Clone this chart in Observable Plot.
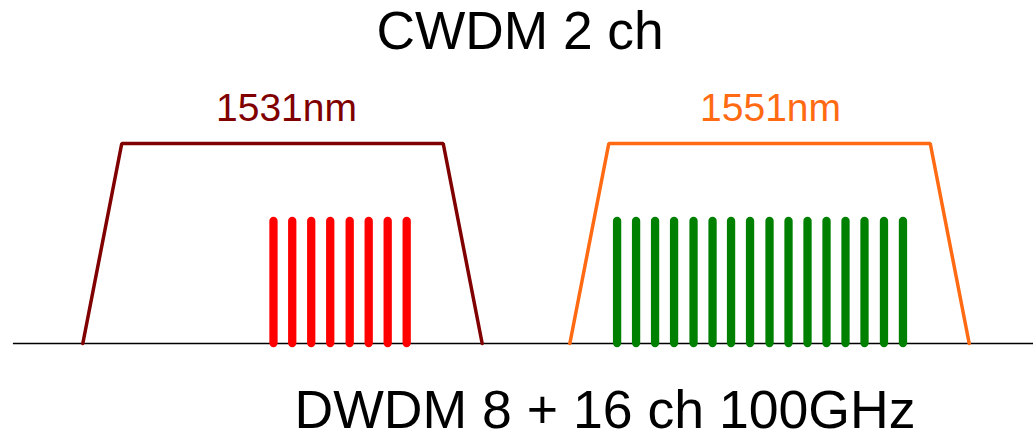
<!DOCTYPE html>
<html>
<head>
<meta charset="utf-8">
<script src="https://cdn.jsdelivr.net/npm/d3@7"></script>
<script src="https://cdn.jsdelivr.net/npm/@observablehq/plot@0.6"></script>
<style>
  html, body { margin: 0; padding: 0; background: #fff; }
  #chart svg { display: block; }
</style>
</head>
<body>
<div id="chart"></div>
<script>
// CWDM bands (centre wavelength, nm) and their filter passband shape
const cwdmCenters = [1531, 1551];
const cwdmLabels = ["1531nm", "1551nm"];
const cwdmColors = ["#800000", "#ff6a13"];
const passbandHalfBottom = 8.2;   // nm, half-width at base
const passbandHalfTop = 6.6;      // nm, half-width at top
const passbandLevel = 1;

// DWDM channels (nm) on 100 GHz grid
const dwdm8 = [1530.63, 1531.40, 1532.18, 1532.96, 1533.76, 1534.54, 1535.32, 1536.10];
const dwdm16 = [1544.74, 1545.52, 1546.30, 1547.08, 1547.88, 1548.66, 1549.42, 1550.20,
                1551.00, 1551.78, 1552.56, 1553.34, 1554.12, 1554.90, 1555.70, 1556.48];
const dwdmLevel = 0.61;
const dwdm8Color = "#ff0000";
const dwdm16Color = "#008000";

const title = "CWDM 2 ch";
const caption = "DWDM 8 + 16 ch 100GHz";

// build tables
const trapezoids = cwdmCenters.flatMap((c, i) => [
  {band: cwdmLabels[i], x: c - passbandHalfBottom, y: 0},
  {band: cwdmLabels[i], x: c - passbandHalfTop, y: passbandLevel},
  {band: cwdmLabels[i], x: c + passbandHalfTop, y: passbandLevel},
  {band: cwdmLabels[i], x: c + passbandHalfBottom, y: 0}
]);
const labels = cwdmCenters.map((c, i) => ({x: c, y: passbandLevel, label: cwdmLabels[i], color: cwdmColors[i]}));
const channels = [
  ...dwdm8.map(x => ({x, color: dwdm8Color})),
  ...dwdm16.map(x => ({x, color: dwdm16Color}))
];

const font = "'Liberation Sans', Arial, sans-serif";

const chart = Plot.plot({
  width: 1033,
  height: 434,
  margin: 0,
  style: {background: "#fff", fontFamily: font},
  x: {domain: [1519.42, 1561.84], axis: null},
  y: {domain: [-0.455, 1.715], axis: null},
  marks: [
    Plot.ruleY([0], {x1: 1519.95, x2: 1561.84, stroke: "#000", strokeWidth: 1.5}),
    Plot.line(trapezoids, {x: "x", y: "y", z: "band", stroke: d => cwdmColors[cwdmLabels.indexOf(d.band)], strokeWidth: 3.5, strokeLinejoin: "miter"}),
    Plot.ruleX(channels, {x: "x", y1: 0, y2: dwdmLevel, stroke: "color", strokeWidth: 8.3, strokeLinecap: "round"}),
    Plot.text([labels[0]], {x: "x", y: "y", text: "label", fill: "color", dx: 4, dy: -23, fontSize: 39, textAnchor: "middle", lineAnchor: "bottom", fontFamily: font}),
    Plot.text([labels[1]], {x: "x", y: "y", text: "label", fill: "color", dx: 1, dy: -23, fontSize: 39, textAnchor: "middle", lineAnchor: "bottom", fontFamily: font}),
    Plot.text([title], {frameAnchor: "top", dx: 3, dy: 11, fontSize: 53.3, fill: "#000", lineAnchor: "top", fontFamily: font}),
    Plot.text([caption], {frameAnchor: "bottom", dx: 88, dy: -7, fontSize: 53.6, fill: "#000", lineAnchor: "bottom", fontFamily: font})
  ]
});
document.getElementById("chart").appendChild(chart);
</script>
</body>
</html>
